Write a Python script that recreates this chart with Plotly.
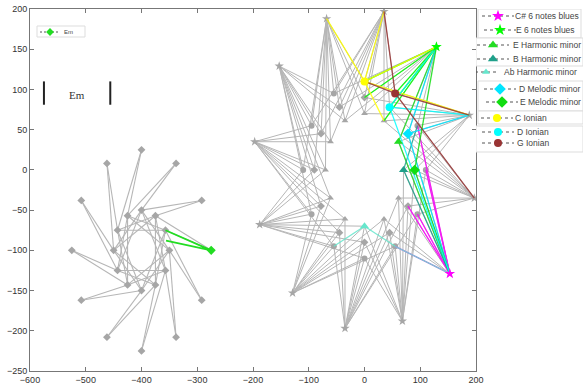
import plotly.graph_objects as go

# ---------------- left star (Em) ----------------
# outer tips, counter-clockwise from the right-most tip
L_OUTER_X = [-275, -292, -338, -400, -462, -508, -525, -508, -462, -400, -338, -292]
L_OUTER_Y = [-100, -38, 8, 25, 8, -38, -100, -162, -208, -225, -208, -162]
# inner ring
L_INNER_X = [-350, -357, -375, -400, -425, -443, -450, -443, -425, -400, -375, -357]
L_INNER_Y = [-100, -75, -57, -50, -57, -75, -100, -125, -143, -150, -143, -125]
# highlighted Em path
EM_X = [-357, -275, -356]
EM_Y = [-75, -100, -88]

# ---------------- right star ----------------
R_OUTER_X = [35, 129, 188, 197, 153, 68, -35, -129, -188, -197, -153, -68]
R_OUTER_Y = [197, 153, 68, -35, -129, -188, -197, -153, -68, 35, 129, 188]
RING70_X = [70, 61, 35, 0, -35, -61, -70, -61, -35, 0, 35, 61]
RING70_Y = [0, 35, 61, 70, 61, 35, 0, -35, -61, -70, -61, -35]
RING90_X = [90, 78, 45, 0, -45, -78, -90, -78, -45, 0, 45, 78]
RING90_Y = [0, 45, 78, 90, 78, 45, 0, -45, -78, -90, -78, -45]
RING110_X = [110, 95, 55, 0, -55, -95, -110, -95, -55, 0, 55, 95]
RING110_Y = [0, 55, 95, 110, 95, 55, 0, -55, -95, -110, -95, -55]

# highlighted scales: name, colour, marker, marker point, points its lines reach
SCALE_NAMES = ["C# 6 notes blues", "E 6 notes blues", "E Harmonic minor", "B Harmonic minor",
               "Ab Harmonic minor", "D Melodic minor", "E Melodic minor", "C Ionian",
               "D Ionian", "G Ionian"]
SCALE_COLORS = ["#ff00ff", "#00ff00", "#22dd22", "#1fa08a", "#66e6cc", "#00e5ff", "#11dd11",
                "#ffff00", "#00ffff", "#993333"]
SCALE_SYMBOLS = ["star", "star", "triangle-up", "triangle-up", "triangle-up", "diamond",
                 "diamond", "circle", "circle", "circle"]
SCALE_MARK_X = [153, 129, 61, 70, 0, 78, 90, 0, 45, 55]
SCALE_MARK_Y = [-129, 153, 35, 0, -70, 45, 0, 110, 78, 95]
SCALE_TARGETS = [
    [(95, -55), (78, -45), (110, 0), (55, -95), (95, 55)],
    [(0, 110), (55, 95), (45, 78), (35, 61), (0, 90)],
    [(129, 153), (153, -129)],
    [(95, 55), (153, -129)],
    [(-55, -95), (55, -95)],
    [(153, -129), (129, 153), (188, 68)],
    [(129, 153), (153, -129)],
    [(35, 197), (-68, 188), (188, 68), (35, 61), (129, 153)],
    [(188, 68), (153, -129), (129, 153)],
    [(35, 197), (197, -35), (0, 110), (188, 68)],
]
AB_TAIL = [(55, -95), (153, -129)]

GRAY = "#b6b6b6"
MARK_GRAY = "#a6a6a6"
FONT = "Liberation Sans"

# figure and plot-area geometry (pixels)
FIG_W, FIG_H = 583, 392
PX_L, PX_R, PX_T, PX_B = 30, 476, 9, 371
X_RANGE = [-600, 200]
Y_RANGE = [-250, 200]


def px_x(px):
    return X_RANGE[0] + (px - PX_L) / (PX_R - PX_L) * (X_RANGE[1] - X_RANGE[0])


def px_y(py):
    return Y_RANGE[1] - (py - PX_T) / (PX_B - PX_T) * (Y_RANGE[1] - Y_RANGE[0])


fig = go.Figure()


def segs(pairs):
    xs, ys = [], []
    for (x0, y0), (x1, y1) in pairs:
        xs += [x0, x1, None]
        ys += [y0, y1, None]
    return xs, ys


n = 12
# left star edges: tip -> next two inner nodes, plus inner lattice chords
pairs = []
for i in range(n):
    for off in (1, 2):
        j = (i + off) % n
        pairs.append(((L_OUTER_X[i], L_OUTER_Y[i]), (L_INNER_X[j], L_INNER_Y[j])))
    for off in (3, 4):
        j = (i + off) % n
        pairs.append(((L_INNER_X[i], L_INNER_Y[i]), (L_INNER_X[j], L_INNER_Y[j])))
lx, ly = segs(pairs)
fig.add_trace(go.Scatter(x=lx, y=ly, mode="lines", line=dict(color=GRAY, width=1.1),
                         showlegend=False, hoverinfo="skip"))

# right star edges: each tip fans into the three rings
rings = [(RING70_X, RING70_Y), (RING90_X, RING90_Y), (RING110_X, RING110_Y)]
pairs = []
for k in range(n):
    for off in (2, 3, 4, 5):
        j = (off - k) % n
        for rx, ry in rings:
            pairs.append(((R_OUTER_X[k], R_OUTER_Y[k]), (rx[j], ry[j])))
rx_, ry_ = segs(pairs)
fig.add_trace(go.Scatter(x=rx_, y=ry_, mode="lines", line=dict(color=GRAY, width=1.0),
                         showlegend=False, hoverinfo="skip"))

# gray node markers
fig.add_trace(go.Scatter(x=L_OUTER_X + L_INNER_X, y=L_OUTER_Y + L_INNER_Y, mode="markers",
                         marker=dict(symbol="diamond", size=6, color=MARK_GRAY),
                         showlegend=False, hoverinfo="skip"))
fig.add_trace(go.Scatter(x=R_OUTER_X, y=R_OUTER_Y, mode="markers",
                         marker=dict(symbol="star", size=7, color=MARK_GRAY),
                         showlegend=False, hoverinfo="skip"))
for (xs, ys), sym in zip(rings, ["triangle-up", "diamond", "circle"]):
    fig.add_trace(go.Scatter(x=xs, y=ys, mode="markers",
                             marker=dict(symbol=sym, size=6, color=MARK_GRAY),
                             showlegend=False, hoverinfo="skip"))

# Em highlight on the left star
fig.add_trace(go.Scatter(x=EM_X, y=EM_Y, mode="lines", line=dict(color="#22dd22", width=1.8),
                         showlegend=False, hoverinfo="skip"))
fig.add_trace(go.Scatter(x=[EM_X[1]], y=[EM_Y[1]], mode="markers",
                         marker=dict(symbol="diamond", size=7, color="#22dd22"),
                         showlegend=False, hoverinfo="skip"))

# coloured scale paths on the right star
for idx, name in enumerate(SCALE_NAMES):
    mx, my = SCALE_MARK_X[idx], SCALE_MARK_Y[idx]
    p = [((mx, my), t) for t in SCALE_TARGETS[idx]]
    if name == "Ab Harmonic minor":
        p.append((AB_TAIL[0], AB_TAIL[1]))
    xs, ys = segs(p)
    fig.add_trace(go.Scatter(x=xs, y=ys, mode="lines",
                             line=dict(color=SCALE_COLORS[idx], width=1.3),
                             opacity=0.85, showlegend=False, hoverinfo="skip"))
for idx, name in enumerate(SCALE_NAMES):
    fig.add_trace(go.Scatter(x=[SCALE_MARK_X[idx]], y=[SCALE_MARK_Y[idx]], mode="markers",
                             marker=dict(symbol=SCALE_SYMBOLS[idx], size=8,
                                         color=SCALE_COLORS[idx]),
                             showlegend=False, hoverinfo="skip"))

# ---------------- key panel on the right (pixel coordinates on x2/y2) ----------------
KEY_MARK_X = [498, 500, 493, 493, 486, 500, 502, 497, 498, 498]
KEY_ROW_Y = [16, 30, 45, 59, 72, 89, 102, 118, 132, 143]
KEY_TEXT_X = [513, 514, 511, 511, 502, 517, 518, 513, 515, 515]
KEY_MARK_SIZE = [9, 9, 9, 9, 7, 9, 9, 8, 8, 8]
KEY_BOXES = [(478, 9, 581, 38), (476, 38, 583, 66), (478, 81, 583, 111),
             (478, 111, 583, 124), (476, 126, 583, 152)]

for (x0, y0, x1, y1) in KEY_BOXES:
    fig.add_shape(type="rect", xref="x2", yref="y2", x0=x0, x1=x1, y0=y0, y1=y1,
                  line=dict(color="#dddddd", width=1), fillcolor="white", layer="below")
for idx, name in enumerate(SCALE_NAMES):
    mx, ry = KEY_MARK_X[idx], KEY_ROW_Y[idx]
    half = 16 if idx != 4 else 11
    fig.add_trace(go.Scatter(x=[mx - half, mx + half], y=[ry, ry], mode="lines",
                             line=dict(color="#555555", width=1, dash="3px,3px"),
                             xaxis="x2", yaxis="y2", showlegend=False, hoverinfo="skip"))
    fig.add_trace(go.Scatter(x=[mx], y=[ry], mode="markers",
                             marker=dict(symbol=SCALE_SYMBOLS[idx], size=KEY_MARK_SIZE[idx],
                                         color=SCALE_COLORS[idx]),
                             xaxis="x2", yaxis="y2", showlegend=False, hoverinfo="skip"))
    fig.add_annotation(x=KEY_TEXT_X[idx], y=ry, xref="x2", yref="y2", text=name,
                       showarrow=False, xanchor="left", yanchor="middle",
                       font=dict(family=FONT, size=8.5, color="#444444"))

# ---------------- Em key and caption (main axes) ----------------
fig.add_shape(type="rect", x0=px_x(37), x1=px_x(85), y0=px_y(26), y1=px_y(37),
              line=dict(color="#dddddd", width=1), fillcolor="white", layer="below")
fig.add_trace(go.Scatter(x=[px_x(40), px_x(60)], y=[px_y(32), px_y(32)], mode="lines",
                         line=dict(color="#555555", width=1, dash="2px,2px"),
                         showlegend=False, hoverinfo="skip"))
fig.add_trace(go.Scatter(x=[px_x(50)], y=[px_y(32)], mode="markers",
                         marker=dict(symbol="diamond", size=6, color="#22dd22"),
                         showlegend=False, hoverinfo="skip"))
fig.add_annotation(x=px_x(62), y=px_y(32), text="Em", showarrow=False, xanchor="left",
                   yanchor="middle", font=dict(family=FONT, size=6, color="#444444"))

BAR_X = [-575, -456]
BAR_Y = [81, 110]
for bx in BAR_X:
    fig.add_shape(type="line", x0=bx, x1=bx, y0=BAR_Y[0], y1=BAR_Y[1],
                  line=dict(color="#222222", width=2))
fig.add_annotation(x=-515, y=93, text="Em", showarrow=False,
                   font=dict(family="Liberation Serif", size=11, color="#333333"))

MAIN_FRAC = (PX_R - PX_L) / (FIG_W - PX_L)
fig.update_layout(
    width=FIG_W, height=FIG_H, autosize=False,
    margin=dict(l=PX_L, r=0, t=PX_T, b=FIG_H - PX_B, pad=0, autoexpand=False),
    paper_bgcolor="white", plot_bgcolor="rgba(0,0,0,0)",
    showlegend=False,
    font=dict(family=FONT, size=9, color="#333333"),
    xaxis=dict(domain=[0, MAIN_FRAC], range=X_RANGE, dtick=100, ticks="inside", ticklen=4,
               mirror="ticks", showline=True, linecolor="#777777", tickcolor="#777777",
               showgrid=False, zeroline=False, automargin=False,
               tickfont=dict(size=9, color="#333333")),
    yaxis=dict(range=Y_RANGE, dtick=50, ticks="inside", ticklen=4, mirror="ticks",
               showline=True, linecolor="#777777", tickcolor="#777777", showgrid=False,
               zeroline=False, automargin=False, tickfont=dict(size=9, color="#333333")),
    xaxis2=dict(domain=[MAIN_FRAC, 1], range=[PX_R, FIG_W], visible=False, anchor="y2"),
    yaxis2=dict(domain=[0, 1], range=[PX_B, PX_T], visible=False, anchor="x2"),
)

fig.write_html("out.html")
